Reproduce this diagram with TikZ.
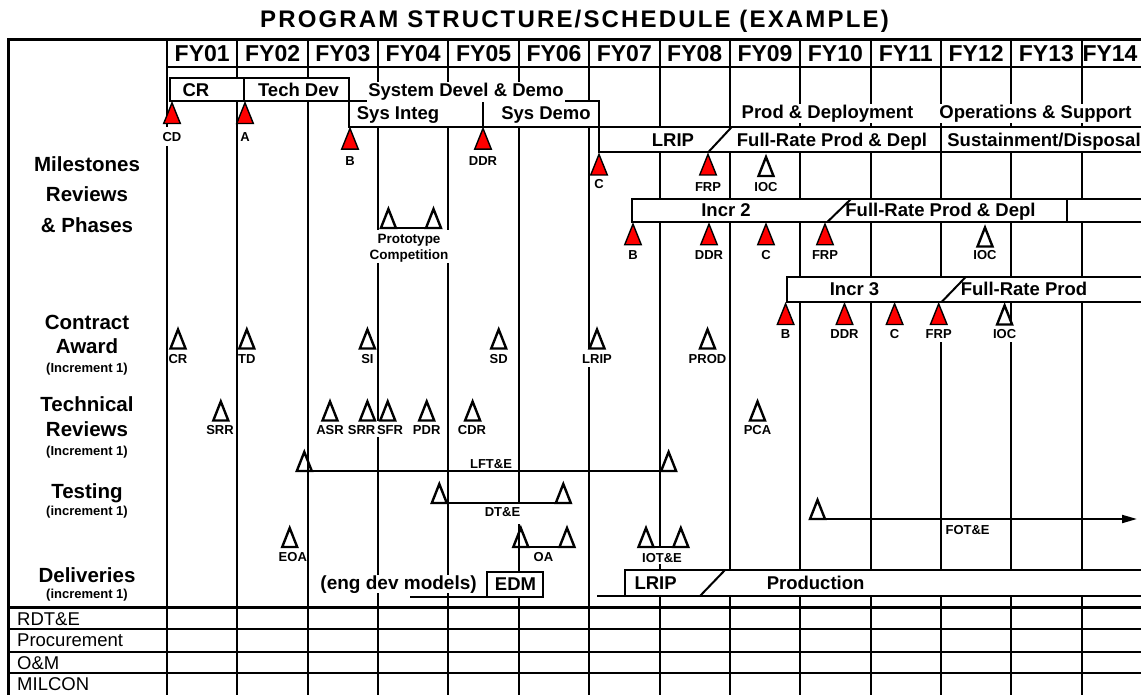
\documentclass[tikz,border=0pt]{standalone}
\usepackage{fontspec}
\setmainfont{Liberation Sans}
\usetikzlibrary{arrows.meta}
\newcommand{\fsz}[1]{\fontsize{#1}{#1}\selectfont}
\begin{document}
\begin{tikzpicture}[x=1pt,y=-1pt,
  grid/.style={line width=2pt},
  boxs/.style={draw, line width=2pt, fill=white},
  lb/.style={anchor=base, inner sep=0pt, font=\fsz{18.5}\bfseries},
  lbw/.style={lb, fill=white, inner xsep=1.5pt, inner ysep=1pt},
  sm/.style={anchor=base, inner sep=0pt, font=\fsz{13}\bfseries},
  hd/.style={anchor=base, inner sep=0pt, font=\fsz{20.5}\bfseries},
  fy/.style={anchor=base, inner sep=0pt, font=\fsz{23}\bfseries},
  rw/.style={anchor=base west, inner sep=0pt, font=\fsz{18.5}},
  rtri/.pic={\filldraw[fill=red, draw=black, line width=1.4pt, line join=miter] (0,1.8) -- (8.3,22.5) -- (-8.3,22.5) -- cycle;
    \coordinate (-top) at (0,0); \coordinate (-bl) at (-8.3,22.5); \coordinate (-br) at (8.3,22.5);},
  otri/.pic={\draw[line width=2.4pt, line join=miter] (0,3.5) -- (7.5,22.5) -- (-7.5,22.5) -- cycle;
    \coordinate (-top) at (0,0); \coordinate (-bl) at (-7.5,22.5); \coordinate (-br) at (7.5,22.5);}
]
\path[use as bounding box] (0,0) rectangle (1141,695);
\clip (0,0) rectangle (1141,695);

% ---- column lines
\draw[grid] (167,40) -- (167,127) (167,146) -- (167,695);
\draw[grid] (237.4,40) -- (237.4,695);
\draw[grid] (307.7,40) -- (307.7,695);
\draw[grid] (378,40) -- (378,230) (378,263) -- (378,421) (378,437) -- (378,575) (378,593) -- (378,695);
\draw[grid] (448.4,40) -- (448.4,230) (448.4,263) -- (448.4,575) (448.4,593) -- (448.4,695);
\draw[grid] (518.8,40) -- (518.8,503) (518.8,524) -- (518.8,695);
\draw[grid] (589.1,40) -- (589.1,349) (589.1,367) -- (589.1,695);
\draw[grid] (659.5,40) -- (659.5,547.7) (659.5,564) -- (659.5,695);
\draw[grid] (729.8,40) -- (729.8,695);
\draw[grid] (800.2,40) -- (800.2,695);
\draw[grid] (870.5,40) -- (870.5,695);
\draw[grid] (940.9,40) -- (940.9,302) (940.9,342) -- (940.9,695);
\draw[grid] (1011.2,40) -- (1011.2,325) (1011.2,342) -- (1011.2,695);
\draw[grid] (1081.6,40) -- (1081.6,695);

% ---- horizontal lines
\draw[grid] (167,66.7) -- (1141,66.7);
\draw[line width=2.4pt] (8,607.3) -- (1141,607.3);
\draw[line width=1.8pt] (8,629.3) -- (1141,629.3);
\draw[line width=1.8pt] (8,651.7) -- (1141,651.7);
\draw[line width=2pt] (8,673.3) -- (1141,673.3);

% ---- phase boxes
\draw[boxs] (170,77.7) rectangle (244,101);
\draw[boxs] (244,77.7) rectangle (349,101);
\draw[boxs] (349,101) rectangle (483,126.7);
\draw[boxs] (483,101) rectangle (598.5,126.7);
\draw[boxs] (598.5,126.7) rectangle (1160,152.5);
\draw[grid] (940.9,126.7) -- (940.9,152.5);
\draw[boxs] (632,199) rectangle (1067,222.3);
\draw[boxs] (1067,199) rectangle (1160,222.3);
\draw[boxs] (787,277) rectangle (1160,302);
\draw[boxs] (487,572) rectangle (543,597.3);
\draw[grid] (410,597.3) -- (487,597.3);
\draw[boxs] (625,570) rectangle (1160,596);
\draw[grid] (597,596) -- (625,596);
\draw[grid] (700,596) -- (725,570);
\draw[grid] (708,152.5) -- (732,126.7);
\draw[grid] (827,222.3) -- (851,199);
\draw[grid] (941.6,302) -- (965.7,277);

% ---- title and header
\node[anchor=base, inner sep=0pt, font=\fsz{24}\bfseries\addfontfeature{LetterSpace=9}] (title) at (574.5,27.3) {PROGRAM STRUCTURE/SCHEDULE (EXAMPLE)};
\foreach \n/\x in {01/202.2,02/272.6,03/342.9,04/413.2,05/483.6,06/554,07/624.3,08/694.7,09/765,10/835.4,11/905.7,12/976.1,13/1046.4,14/1110}
  \node[fy] (fy\n) at (\x,61.7) {FY\n};

% ---- phase texts
\node[lb] (tcr) at (196,96.7) {CR};
\node[lb] (ttd) at (298.5,96.7) {Tech Dev};
\node[lbw] (tsdd) at (466,96.7) {System Devel \& Demo};
\node[lb] (tsi) at (398,120) {Sys Integ};
\node[lb] (tsdm) at (546,120) {Sys Demo};
\node[lbw] (tpd) at (827.5,118.3) {Prod \& Deployment};
\node[lbw] (tos) at (1035.5,118.3) {Operations \& Support};
\node[lb] (tlrip) at (673,146.7) {LRIP};
\node[lb] (tfr1) at (832,146.7) {Full-Rate Prod \& Depl};
\node[lb] (tsus) at (1044,146.7) {Sustainment/Disposal};
\node[lb] (tin2) at (726,217) {Incr 2};
\node[lb] (tfr2) at (940.5,217) {Full-Rate Prod \& Depl};
\node[lb] (tin3) at (854.5,295.5) {Incr 3};
\node[lb] (tfr3) at (1024,295.5) {Full-Rate Prod};
\node[lb] (tlrip2) at (655.6,589.3) {LRIP};
\node[lb] (tprod) at (815.6,589.3) {Production};
\node[lb] (tedm) at (515.5,590) {EDM};
\node[lb, font=\fsz{19}\bfseries] (teng) at (398.6,589.5) {(eng dev models)};

% ---- left labels
\node[hd] (l1) at (87,171.7) {Milestones};
\node[hd] (l2) at (87,201.7) {Reviews};
\node[hd] (l3) at (87,232.7) {\& Phases};
\node[hd] (l4) at (87,329) {Contract};
\node[hd] (l5) at (87,353.3) {Award};
\node[sm] (l6) at (87,372.5) {(Increment 1)};
\node[hd] (l7) at (87,411.7) {Technical};
\node[hd] (l8) at (87,436.7) {Reviews};
\node[sm] (l9) at (87,455) {(Increment 1)};
\node[hd] (l10) at (87,498.3) {Testing};
\node[sm] (l11) at (87,515.5) {(increment 1)};
\node[hd] (l12) at (87,582.3) {Deliveries};
\node[sm] (l13) at (87,598.5) {(increment 1)};
\node[rw] (r1) at (17,625) {RDT\&E};
\node[rw] (r2) at (17,646.7) {Procurement};
\node[rw] (r3) at (17,669) {O\&M};
\node[rw] (r4) at (17,690) {MILCON};

% ---- milestone triangles (red)
\pic (cd) at (172,101) {rtri};
\pic (ma) at (245,101) {rtri};
\pic (b1) at (350,126.7) {rtri};
\pic (ddr1) at (483,126.7) {rtri};
\pic (c1) at (599,152.5) {rtri};
\pic (frp1) at (708,152.5) {rtri};
\pic (b2) at (633,222.3) {rtri};
\pic (ddr2) at (709,222.3) {rtri};
\pic (c2) at (766,222.3) {rtri};
\pic (frp2) at (825,222.3) {rtri};
\pic (b3) at (785.6,302) {rtri};
\pic (ddr3) at (844.5,302) {rtri};
\pic (c3) at (894.6,302) {rtri};
\pic (frp3) at (938.7,302) {rtri};
% outline
\pic (ioc1) at (766,153.5) {otri};
\pic (ioc2) at (985,224) {otri};
\pic (ioc3) at (1004.6,302) {otri};
\pic (pt1) at (388.4,205.5) {otri};
\pic (pt2) at (433.5,205.5) {otri};
\draw[grid] (pt1-bl) -- (pt2-br);

\node[sm] at (172,141.7) {CD};
\node[sm] at (245,141.2) {A};
\node[sm] at (350,165.7) {B};
\node[sm] at (483,165.7) {DDR};
\node[sm] at (599,189) {C};
\node[sm] at (708,191.7) {FRP};
\node[sm] at (766,191.7) {IOC};
\node[sm] at (633,260) {B};
\node[sm] at (709,260) {DDR};
\node[sm] at (766,260) {C};
\node[sm] at (825,260) {FRP};
\node[sm] at (985,260) {IOC};
\node[sm] at (785.6,338.3) {B};
\node[sm] at (844.5,338.3) {DDR};
\node[sm] at (894.6,338.3) {C};
\node[sm] at (938.7,338.3) {FRP};
\node[sm] at (1004.6,338.3) {IOC};
\node[sm, font=\fsz{13.5}\bfseries] (pc1) at (409,243.3) {Prototype};
\node[sm, font=\fsz{13.5}\bfseries] (pc2) at (409,259.3) {Competition};

% ---- contract awards
\foreach \nm/\x/\t in {cacr/178/CR, catd/246.8/TD, casi/367.4/SI, casd/498.7/SD, calrip/597/LRIP, caprod/707.5/PROD}{
  \pic (\nm) at (\x,326) {otri};
  \node[sm] at (\x,363.3) {\t};
}
% ---- technical reviews
\foreach \nm/\x/\lx/\t in {tsrr/220.8/220/SRR, tasr/330/330/ASR, tsrr2/367.4/361.6/SRR, tsfr/387.7/390/SFR, tpdr/426.7/426.7/PDR, tcdr/472.6/472/CDR, tpca/757.5/757.5/PCA}{
  \pic (\nm) at (\x,398) {otri};
  \node[sm] at (\lx,434.3) {\t};
}

% ---- testing
\pic (lft1) at (304.3,448.5) {otri};
\pic (lft2) at (668.6,448.5) {otri};
\draw[grid] (lft1-bl) -- (lft2-br);
\node[sm] (llft) at (491,468.3) {LFT\&E};
\pic (dt1) at (439.3,480.5) {otri};
\pic (dt2) at (563.3,480.5) {otri};
\draw[grid] (dt1-bl) -- (dt2-br);
\node[sm] (ldt) at (502.5,516.7) {DT\&E};
\pic (oa1) at (520.8,524.5) {otri};
\pic (oa2) at (567,524.5) {otri};
\draw[grid] (oa1-bl) -- (oa2-br);
\node[sm] (loa) at (543.4,561.7) {OA};
\pic (eoa) at (289.7,524.5) {otri};
\node[sm] (leoa) at (292.8,561.7) {EOA};
\pic (io1) at (646,524.5) {otri};
\pic (io2) at (680.8,524.5) {otri};
\draw[grid] (io1-bl) -- (io2-br);
\node[sm] (lio) at (662,562.7) {IOT\&E};
\pic (fot) at (817.5,496.5) {otri};
\coordinate (fotend) at (1137,519);
\draw[grid, -{Triangle[length=15pt,width=8pt]}] (fot-bl) -- (fotend);
\node[sm] (lfot) at (967.6,534) {FOT\&E};

% ---- frame
\draw[line width=3pt] (8,695) -- (8,40) -- (1141,40);
\end{tikzpicture}
\end{document}
